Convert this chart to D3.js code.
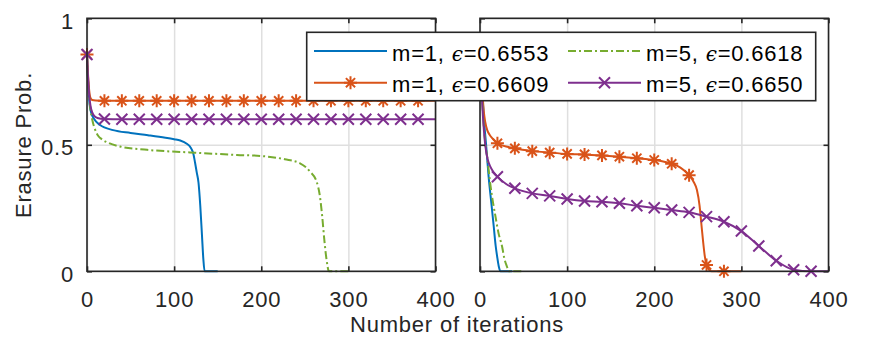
<!DOCTYPE html>
<html>
<head>
<meta charset="utf-8">
<script src="https://cdn.jsdelivr.net/npm/d3@7"></script>
<style>
  body { margin: 0; background: #fff; }
  text { font-family: "Liberation Sans", Arial, sans-serif; }
</style>
</head>
<body>
<svg id="chart" width="872" height="339"></svg>
<script>
// tick values
const xTicks = [0, 100, 200, 300, 400];
const yTicks = [0, 0.5, 1];

// legend entries (order: blue, orange, green, purple)
const legendM = [1, 1, 5, 5];
const legendEps = ["0.6553", "0.6609", "0.6618", "0.6650"];

// left panel curves
const leftBlueIter = [0, 1, 2, 3, 5, 8, 15, 30, 50, 70, 90, 100, 107, 115, 118, 120, 122, 124, 126, 128, 130, 132, 133.5, 135, 150];
const leftBlueVal = [0.857, 0.77, 0.70, 0.66, 0.625, 0.603, 0.578, 0.558, 0.547, 0.538, 0.528, 0.522, 0.517, 0.503, 0.494, 0.483, 0.466, 0.43, 0.39, 0.35, 0.26, 0.14, 0.05, 0, 0];

const leftOrangeIter = [0, 1, 2, 3, 4, 6, 10, 20, 40, 60, 80, 100, 120, 140, 160, 180, 200, 220, 240, 260, 280, 300, 320, 340, 360, 380, 400];
const leftOrangeVal = [0.857, 0.79, 0.735, 0.70, 0.685, 0.677, 0.675, 0.674, 0.674, 0.674, 0.674, 0.674, 0.674, 0.674, 0.674, 0.674, 0.674, 0.674, 0.674, 0.674, 0.674, 0.674, 0.674, 0.674, 0.674, 0.674, 0.674];

const leftGreenIter = [0, 1, 2, 4, 6, 9.5, 13, 17, 25, 38, 69, 118, 172, 199, 227, 244.5, 256, 263.6, 267.4, 270, 272.4, 275, 277.7, 300];
const leftGreenVal = [0.857, 0.77, 0.71, 0.64, 0.60, 0.558, 0.535, 0.522, 0.507, 0.493, 0.480, 0.470, 0.460, 0.456, 0.443, 0.427, 0.394, 0.354, 0.295, 0.216, 0.124, 0.045, 0, 0];

const leftPurpleIter = [0, 1, 2, 3, 4, 6, 8, 12, 20, 40, 60, 80, 100, 120, 140, 160, 180, 200, 220, 240, 260, 280, 300, 320, 340, 360, 380, 400];
const leftPurpleVal = [0.857, 0.78, 0.72, 0.68, 0.655, 0.628, 0.615, 0.606, 0.602, 0.601, 0.601, 0.601, 0.601, 0.601, 0.601, 0.601, 0.601, 0.601, 0.601, 0.601, 0.601, 0.601, 0.601, 0.601, 0.601, 0.601, 0.601, 0.601];

// right panel curves
const rightBlueIter = [0, 3, 5, 7, 10, 13, 15.8, 18, 19.7, 21.5, 23.5, 37];
const rightBlueVal = [0.857, 0.68, 0.58, 0.50, 0.37, 0.27, 0.176, 0.10, 0.058, 0.02, 0, 0];

const rightOrangeIter = [0, 2, 4.4, 6, 8.3, 11, 14, 20, 40, 60, 80, 100, 120, 140, 160, 180, 200, 220, 230, 240, 245, 249, 252, 254, 256, 258, 260, 263, 266, 280, 300];
const rightOrangeVal = [0.857, 0.75, 0.63, 0.59, 0.558, 0.54, 0.526, 0.506, 0.486, 0.475, 0.469, 0.464, 0.462, 0.458, 0.453, 0.447, 0.44, 0.425, 0.41, 0.38, 0.355, 0.321, 0.26, 0.19, 0.12, 0.06, 0.025, 0.005, 0, 0, 0];

const rightGreenIter = [0, 2.5, 4.4, 6, 8.3, 12, 15, 17.8, 21, 25.4, 28, 31, 33, 50];
const rightGreenVal = [0.857, 0.68, 0.57, 0.51, 0.45, 0.34, 0.27, 0.216, 0.155, 0.097, 0.05, 0.018, 0, 0];

const rightPurpleIter = [0, 2, 4, 6, 9, 12, 16, 20, 30, 40, 60, 80, 100, 120, 140, 160, 180, 200, 220, 240, 260, 280, 300, 320, 340, 360, 380, 400];
const rightPurpleVal = [0.857, 0.70, 0.58, 0.50, 0.44, 0.413, 0.39, 0.374, 0.345, 0.328, 0.308, 0.298, 0.286, 0.278, 0.275, 0.269, 0.259, 0.251, 0.242, 0.233, 0.216, 0.196, 0.159, 0.10, 0.042, 0.006, 0, 0];

const colors = ["#0072BD", "#D95319", "#77AC30", "#7E2F8E"];
const markerType = [null, "star", null, "cross"];
const dashes = [null, null, "8,3,2,3", null];

const svg = d3.select("#chart");
const fontSize = 22;
const spacing = "0.8px";
const lw = 2;

const y = d3.scaleLinear().domain([0, 1]).range([271.3, 18.3]);

const markerPath = {
  star: "M-6.5,0H6.5M0,-6.5V6.5M-4.6,-4.6L4.6,4.6M-4.6,4.6L4.6,-4.6",
  cross: "M-5.5,-5.5L5.5,5.5M-5.5,5.5L5.5,-5.5"
};

function zip(iters, vals) {
  return iters.map((d, i) => ({ it: d, v: vals[i] }));
}

function drawPanel(x0, showYLabels, series) {
  const x = d3.scaleLinear().domain([0, 400]).range([x0, x0 + 348.5]);
  const g = svg.append("g");
  const h = y(0) - y(1);
  const w = x(400) - x(0);

  // grid
  g.append("g")
    .attr("transform", `translate(0,${y(0)})`)
    .call(d3.axisBottom(x).tickValues(xTicks).tickSize(-h).tickFormat(""))
    .call(a => {
      a.select(".domain").remove();
      a.selectAll("line").attr("stroke", "#dfdfdf").attr("stroke-width", 1.5);
    });
  g.append("g")
    .attr("transform", `translate(${x(0)},0)`)
    .call(d3.axisLeft(y).tickValues(yTicks).tickSize(-w).tickFormat(""))
    .call(a => {
      a.select(".domain").remove();
      a.selectAll("line").attr("stroke", "#dfdfdf").attr("stroke-width", 1.5);
    });

  // curves
  const line = d3.line().x(d => x(d.it)).y(d => y(d.v)).curve(d3.curveMonotoneX);
  series.forEach((s, i) => {
    const pts = zip(s[0], s[1]);
    g.append("path")
      .datum(pts)
      .attr("d", line)
      .attr("fill", "none")
      .attr("stroke", colors[i])
      .attr("stroke-width", lw)
      .attr("stroke-dasharray", dashes[i]);
    if (markerType[i]) {
      const last = pts[pts.length - 1].it;
      g.selectAll(null)
        .data(pts.filter(d => d.it % 20 === 0 && d.it < last))
        .join("path")
        .attr("transform", d => `translate(${x(d.it)},${y(d.v)})`)
        .attr("d", markerPath[markerType[i]])
        .attr("fill", "none")
        .attr("stroke", colors[i])
        .attr("stroke-width", lw);
    }
  });

  // box
  g.append("rect")
    .attr("x", x(0)).attr("y", y(1))
    .attr("width", w).attr("height", h)
    .attr("fill", "none")
    .attr("stroke", "#262626")
    .attr("stroke-width", 1.6);

  const styleAxis = a => {
    a.select(".domain").remove();
    a.selectAll("line").attr("stroke", "#262626").attr("stroke-width", 1.6);
    a.selectAll("text")
      .attr("fill", "#262626")
      .style("font-size", fontSize + "px")
      .style("letter-spacing", spacing)
      .style("font-family", "'Liberation Sans', Arial, sans-serif");
  };

  g.append("g")
    .attr("transform", `translate(0,${y(0)})`)
    .call(d3.axisBottom(x).tickValues(xTicks).tickSize(-5).tickFormat(d3.format("d")))
    .call(styleAxis)
    .call(a => a.selectAll("text").attr("y", 35.4).attr("dy", null));
  g.append("g")
    .attr("transform", `translate(0,${y(1)})`)
    .call(d3.axisTop(x).tickValues(xTicks).tickSize(-5).tickFormat(""))
    .call(styleAxis);
  const left = g.append("g")
    .attr("transform", `translate(${x(0)},0)`)
    .call(d3.axisLeft(y).tickValues(yTicks).tickSize(-5).tickFormat(showYLabels ? d3.format("") : ""))
    .call(styleAxis);
  left.selectAll("text").attr("x", -13).attr("dy", null).attr("y", 10);
  g.append("g")
    .attr("transform", `translate(${x(400)},0)`)
    .call(d3.axisRight(y).tickValues(yTicks).tickSize(-5).tickFormat(""))
    .call(styleAxis);
}

drawPanel(87, true, [
  [leftBlueIter, leftBlueVal],
  [leftOrangeIter, leftOrangeVal],
  [leftGreenIter, leftGreenVal],
  [leftPurpleIter, leftPurpleVal]
]);
drawPanel(480, false, [
  [rightBlueIter, rightBlueVal],
  [rightOrangeIter, rightOrangeVal],
  [rightGreenIter, rightGreenVal],
  [rightPurpleIter, rightPurpleVal]
]);

// axis titles
svg.append("text")
  .attr("transform", "translate(31,145) rotate(-90)")
  .attr("text-anchor", "middle")
  .attr("fill", "#262626")
  .style("font-size", fontSize + "px")
  .style("letter-spacing", spacing)
  .text("Erasure Prob.");

svg.append("text")
  .attr("x", 457)
  .attr("y", 331.5)
  .attr("text-anchor", "middle")
  .attr("fill", "#262626")
  .style("font-size", fontSize + "px")
  .style("letter-spacing", spacing)
  .text("Number of iterations");

// legend
const leg = svg.append("g");
leg.append("rect")
  .attr("x", 306.7).attr("y", 32.3)
  .attr("width", 509).attr("height", 68.4)
  .attr("fill", "#fff")
  .attr("stroke", "#262626")
  .attr("stroke-width", 1.6);

const colX = [314, 568];
const rowY = [51, 82.7];
legendM.forEach((m, i) => {
  const cx = colX[Math.floor(i / 2)];
  const cy = rowY[i % 2];
  leg.append("line")
    .attr("x1", cx).attr("x2", cx + 73)
    .attr("y1", cy).attr("y2", cy)
    .attr("stroke", colors[i])
    .attr("stroke-width", lw)
    .attr("stroke-dasharray", dashes[i]);
  if (markerType[i]) {
    leg.append("path")
      .attr("transform", `translate(${cx + 36.5},${cy})`)
      .attr("d", markerPath[markerType[i]])
      .attr("fill", "none")
      .attr("stroke", colors[i])
      .attr("stroke-width", lw);
  }
  const t = leg.append("text")
    .attr("x", cx + 78)
    .attr("y", cy + 9.7)
    .attr("fill", "#000")
    .style("font-size", fontSize + "px")
    .style("letter-spacing", spacing);
  t.append("tspan").text(`m=${m}, `);
  t.append("tspan")
    .style("font-family", "'DejaVu Serif', serif")
    .style("font-style", "italic")
    .style("font-size", "20px")
    .text("\u03F5");
  t.append("tspan").text(`=${legendEps[i]}`);
});
</script>
</body>
</html>
